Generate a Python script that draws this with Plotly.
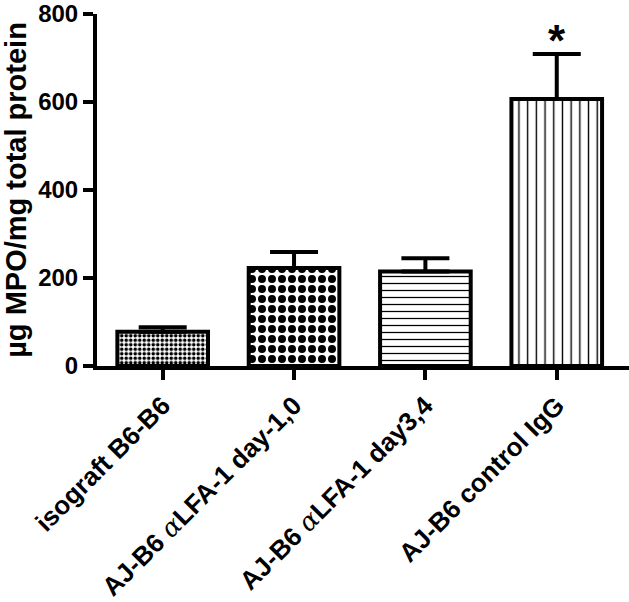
import plotly.graph_objects as go

categories = ["isograft B6-B6",
              "AJ-B6 <span style='font-family:DejaVu Serif;font-style:italic;font-weight:normal'>α</span>LFA-1 day-1,0",
              "AJ-B6 <span style='font-family:DejaVu Serif;font-style:italic;font-weight:normal'>α</span>LFA-1 day3,4",
              "AJ-B6 control IgG"]
values = [78, 223, 215, 607]
errors = [10, 36, 30, 102]
pattern_shapes = [".", ".", "-", "|"]
pattern_sizes = [4.5, 10, 7, 8.7]
pattern_solidity = [0.5, 0.5, 0.18, 0.16]
y_ticks = [0, 200, 400, 600, 800]
significance = ["", "", "", "*"]

FONT = "Arial, Liberation Sans, sans-serif"

fig = go.Figure()
x_idx = list(range(len(categories)))
fig.add_trace(go.Bar(
    x=x_idx, y=values, width=0.69,
    marker=dict(color="white",
                line=dict(color="black", width=4),
                pattern=dict(shape=pattern_shapes, size=pattern_sizes,
                             solidity=pattern_solidity, fgcolor="black",
                             bgcolor="white", fillmode="replace")),
    error_y=dict(type="data", array=errors, arrayminus=[0]*4, symmetric=False,
                 color="black", thickness=4, width=24),
    showlegend=False, hoverinfo="skip",
))

for i, s in enumerate(significance):
    if s:
        fig.add_annotation(x=x_idx[i], y=values[i] + errors[i], text=s,
                           showarrow=False, yanchor="bottom", yshift=-13,
                           font=dict(family=FONT, size=44, color="black", weight="bold"))

fig.update_layout(
    width=629, height=602,
    margin=dict(l=97, r=0, t=14, b=236),
    paper_bgcolor="white", plot_bgcolor="white",
    font=dict(family=FONT, color="black"),
)
fig.update_xaxes(
    range=[-0.5, 3.55], tickmode="array", tickvals=x_idx, ticktext=categories,
    tickangle=-45, showline=True, linecolor="black", linewidth=4,
    ticks="outside", ticklen=10, tickwidth=4, tickcolor="black",
    tickfont=dict(family=FONT, size=26, color="black", weight="bold"),
    showgrid=False, zeroline=False, automargin=False,
)
fig.update_yaxes(
    range=[0, 800], tickmode="array", tickvals=y_ticks,
    showline=True, linecolor="black", linewidth=4,
    ticks="outside", ticklen=10, tickwidth=4, tickcolor="black",
    tickfont=dict(family=FONT, size=24, color="black", weight="bold"),
    title=dict(text="µg MPO/mg total protein",
               font=dict(family=FONT, size=29, color="black", weight="bold"),
               standoff=4),
    showgrid=False, zeroline=False, automargin=False,
)

fig.write_html("out.html", config={"displayModeBar": False},
               post_script="document.body.style.margin='0';document.body.style.overflow='hidden';")
